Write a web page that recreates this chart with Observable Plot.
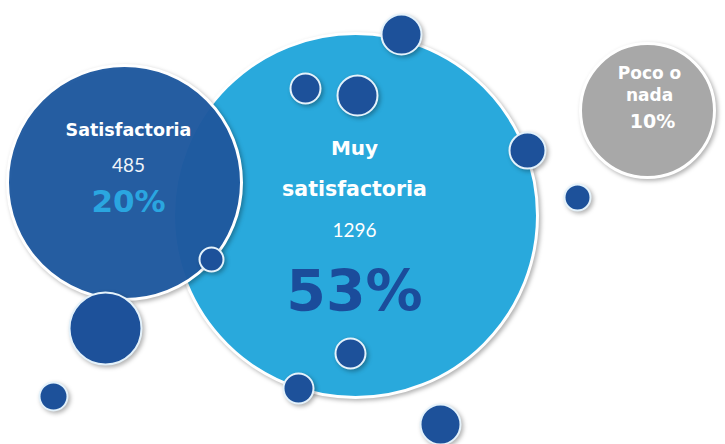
<!DOCTYPE html>
<html>
<head>
<meta charset="utf-8">
<script src="https://cdn.jsdelivr.net/npm/d3@7"></script>
<script src="https://cdn.jsdelivr.net/npm/@observablehq/plot@0.6"></script>
<style>
  html, body { margin: 0; padding: 0; background: #ffffff; }
  #chart svg { display: block; }
</style>
</head>
<body>
<div id="chart"></div>
<script>
// Main categories
const categories = ["Muy satisfactoria", "Satisfactoria", "Poco o nada"];
const counts = [1296, 485, null];
const percents = ["53%", "20%", "10%"];
const bubbleX = [355, 124, 647];
const bubbleY = [215, 182, 110];
const bubbleR = [182, 117, 67];
const bubbleFill = ["#29a9dc", "#1f5aa0", "#a8a8a8"];

// Decorative small bubbles
const dotX = [401, 305, 357, 527, 577, 211, 105, 53, 298, 350, 440];
const dotY = [34, 88, 95, 150, 197, 259, 328, 396, 388, 353, 424];
const dotR = [20, 15, 20, 18, 13, 12, 36, 14, 15, 15, 20];

const big = categories.map((c, i) => ({name: c, x: bubbleX[i], y: bubbleY[i], r: bubbleR[i], fill: bubbleFill[i]}));
const dots = dotX.map((x, i) => ({x, y: dotY[i], r: dotR[i]}));

const boldFont = "'DejaVu Sans', sans-serif";
const lightFont = "Lato, 'Open Sans', sans-serif";

// Text labels
const labels = [
  {x: 128, y: 130, text: "Satisfactoria", size: 17.5, weight: "bold", fill: "#ffffff", font: boldFont},
  {x: 128, y: 165, text: String(counts[1]), size: 19, weight: "normal", fill: "#f0f4fa", font: lightFont},
  {x: 128, y: 202, text: percents[1], size: 31, weight: "bold", fill: "#2aa6e0", font: boldFont},
  {x: 354, y: 148, text: "Muy", size: 20, weight: "bold", fill: "#ffffff", font: boldFont},
  {x: 354, y: 189, text: "satisfactoria", size: 20.5, weight: "bold", fill: "#ffffff", font: boldFont},
  {x: 354, y: 230, text: String(counts[0]), size: 19, weight: "normal", fill: "#ffffff", font: lightFont},
  {x: 354, y: 292, text: percents[0], size: 57, weight: "bold", fill: "#1b4c9b", font: boldFont},
  {x: 649, y: 73, text: "Poco o", size: 17, weight: "bold", fill: "#ffffff", font: boldFont},
  {x: 649, y: 95, text: "nada", size: 17, weight: "bold", fill: "#ffffff", font: boldFont},
  {x: 652, y: 121, text: percents[2], size: 19, weight: "bold", fill: "#ffffff", font: boldFont}
];

const plot = Plot.plot({
  width: 725,
  height: 444,
  margin: 0,
  x: {domain: [0, 725], axis: null},
  y: {domain: [444, 0], axis: null},
  r: {type: "identity"},
  style: {background: "#ffffff"},
  marks: [
    Plot.dot([big[0]], {x: "x", y: "y", r: "r", fill: "fill", stroke: "#ffffff", strokeWidth: 3}),
    Plot.dot([big[1]], {x: "x", y: "y", r: "r", fill: "fill", fillOpacity: 0.96, stroke: "#ffffff", strokeWidth: 3}),
    Plot.dot([big[2]], {x: "x", y: "y", r: "r", fill: "fill", stroke: "#ffffff", strokeWidth: 3}),
    Plot.dot(dots, {x: "x", y: "y", r: "r", fill: "#1d519a", stroke: "#e4f2fb", strokeWidth: 2}),
    ...labels.map(l => Plot.text([l], {x: "x", y: "y", text: "text", fill: "fill", fontSize: l.size, fontWeight: l.weight, fontFamily: l.font}))
  ]
});

d3.select(plot).selectAll("circle").style("filter", "drop-shadow(2px 2px 2px rgba(0,0,0,0.3))");
document.getElementById("chart").appendChild(plot);
</script>
</body>
</html>
